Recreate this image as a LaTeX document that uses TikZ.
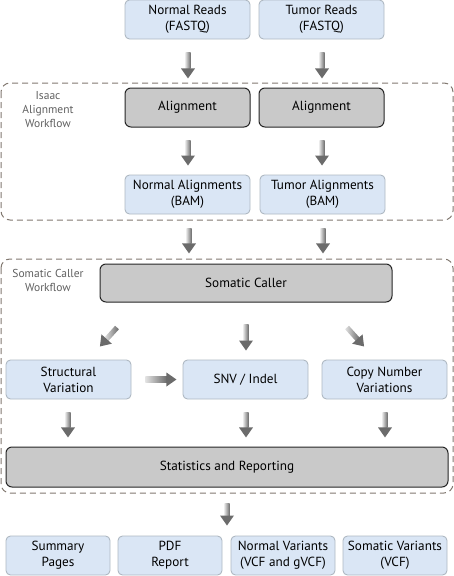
\documentclass[tikz,border=0pt]{standalone}
\usepackage{fontspec}
\setmainfont{PT Sans}
\usetikzlibrary{calc}
\definecolor{bluefill}{HTML}{DAE6F5}
\definecolor{blueline}{HTML}{AEB8C2}
\definecolor{grayfill}{HTML}{C9C9C9}
\definecolor{grayline}{HTML}{262626}
\definecolor{dashcol}{HTML}{817870}
\definecolor{arrdark}{HTML}{6B6B6B}
\definecolor{arrlight}{HTML}{E2E2E2}
\definecolor{labelcol}{HTML}{606060}
\tikzset{
  bluebox/.style={draw=blueline, fill=bluefill, line width=0.9pt, rounded corners=4.5pt,
    minimum height=39pt, align=center, font=\fontsize{13.2}{16}\selectfont, inner sep=0pt},
  graybox/.style={draw=grayline, fill=grayfill, line width=1pt, rounded corners=6pt,
    minimum height=39pt, align=center, font=\fontsize{13.2}{16}\selectfont, inner sep=0pt},
  groupbox/.style={draw=dashcol, line width=1pt, dash pattern=on 6pt off 4pt, rounded corners=9pt},
  grouplabel/.style={text=labelcol, align=center, font=\fontsize{11.5}{14}\selectfont, inner sep=0pt},
  grarrow/.pic={
    \shade[left color=arrlight, right color=arrdark] (0,-2.6) rectangle (#1-9.5,2.6);
    \fill[arrdark] (#1-10,-7) -- (#1,0) -- (#1-10,7) -- cycle;
  }
}
\begin{document}
\begin{tikzpicture}[x=1pt,y=1pt]
\useasboundingbox (0,0) rectangle (454,-576);
% group frames
\draw[groupbox] (1,-83) rectangle (453,-220);
\draw[groupbox] (1,-259) rectangle (453,-493);
\node[grouplabel] (lab1) at (48,-109.5) {Isaac\\Alignment\\Workflow};
\node[grouplabel] (lab2) at (48,-280.5) {Somatic Caller\\Workflow};
% nodes
\node[bluebox, minimum width=125pt] (nr) at (187.5,-19.5) {Normal Reads\\(FASTQ)};
\node[bluebox, minimum width=125pt] (tr) at (321.5,-19.5) {Tumor Reads\\(FASTQ)};
\node[graybox, minimum width=125pt] (al1) at (187.5,-107.5) {Alignment};
\node[graybox, minimum width=125pt] (al2) at (321.5,-107.5) {Alignment};
\node[bluebox, minimum width=125pt] (na) at (187.5,-194.5) {Normal Alignments\\(BAM)};
\node[bluebox, minimum width=125pt] (ta) at (322.5,-194.5) {Tumor Alignments\\(BAM)};
\node[graybox, minimum width=292pt, minimum height=38pt] (sc) at (246,-283) {Somatic Caller};
\node[bluebox, minimum width=125pt] (sv) at (68.5,-379.5) {Structural\\Variation};
\node[bluebox, minimum width=125pt] (snv) at (245.5,-379.5) {SNV / Indel};
\node[bluebox, minimum width=125pt] (cnv) at (384.5,-379.5) {Copy Number\\Variations};
\node[graybox, minimum width=442pt, minimum height=40pt] (st) at (227,-467) {Statistics and Reporting};
\node[bluebox, minimum width=104pt] (sp) at (58,-555.5) {Summary\\Pages};
\node[bluebox, minimum width=104pt] (pdf) at (170,-555.5) {PDF\\Report};
\node[bluebox, minimum width=104pt] (nvar) at (283,-555.5) {Normal Variants\\(VCF and gVCF)};
\node[bluebox, minimum width=104pt] (svar) at (395,-555.5) {Somatic Variants\\(VCF)};
% arrows
\pic[rotate=-90] at ($(nr.south)+(0.5,-13)$) {grarrow=26};
\pic[rotate=-90] at ($(tr.south)+(0.5,-13)$) {grarrow=26};
\pic[rotate=-90] at ($(al1.south)+(0.5,-13)$) {grarrow=25};
\pic[rotate=-90] at ($(al2.south)+(0.5,-13)$) {grarrow=25};
\pic[rotate=-90] at ($(na.south)+(1.5,-14)$) {grarrow=25};
\pic[rotate=-90] at ($(ta.south)+(0.5,-14)$) {grarrow=25};
\pic[rotate=228] at ($(sc.south)+(-129,-25)$) {grarrow=25.5};
\pic[rotate=-90] at ($(sc.south)+(0,-22)$) {grarrow=26};
\pic[rotate=-48] at ($(sc.south)+(101,-25)$) {grarrow=25.5};
\pic at ($(sv.east)+(14,0)$) {grarrow=31};
\pic[rotate=-90] at ($(sv.south)+(-0.5,-13)$) {grarrow=25};
\pic[rotate=-90] at ($(snv.south)+(0.5,-13)$) {grarrow=25};
\pic[rotate=-90] at ($(cnv.south)+(0.5,-13)$) {grarrow=25};
\pic[rotate=-90] at ($(st.south)+(0,-16)$) {grarrow=22};
\end{tikzpicture}
\end{document}
